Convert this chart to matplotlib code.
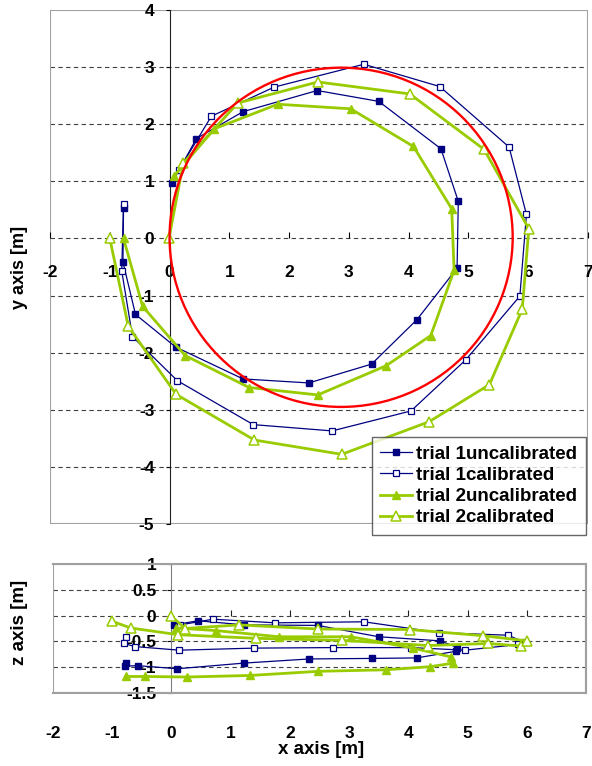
import matplotlib
matplotlib.use("Agg")
from matplotlib import pyplot as plt
from matplotlib.patches import Ellipse, Rectangle

# positions (x, y from top view, z from side view) [m]
t1u_x = [-0.77, -0.78, -0.57, 0.10, 1.23, 2.33, 3.38, 4.14, 4.81, 4.83, 4.54, 3.50, 2.47, 1.23, 0.45, 0.04]
t1u_y = [0.54, -0.41, -1.33, -1.90, -2.46, -2.53, -2.20, -1.42, -0.52, 0.65, 1.57, 2.40, 2.59, 2.22, 1.75, 0.97]
t1u_z = [-0.92, -0.98, -0.97, -1.03, -0.92, -0.84, -0.83, -0.82, -0.69, -0.62, -0.49, -0.41, -0.19, -0.18, -0.10, -0.18]

t1c_x = [-0.77, -0.80, -0.62, 0.13, 1.40, 2.72, 4.04, 4.96, 5.86, 5.97, 5.68, 4.52, 3.25, 1.75, 0.70, 0.15]
t1c_y = [0.61, -0.57, -1.72, -2.49, -3.26, -3.37, -3.02, -2.12, -1.01, 0.42, 1.60, 2.66, 3.05, 2.65, 2.14, 1.19]
t1c_z = [-0.41, -0.54, -0.60, -0.67, -0.63, -0.62, -0.62, -0.67, -0.56, -0.52, -0.38, -0.33, -0.12, -0.14, -0.07, -0.18]

t2u_x = [-0.77, -0.45, 0.26, 1.33, 2.48, 3.62, 4.37, 4.76, 4.72, 4.08, 3.03, 1.81, 0.75, 0.08]
t2u_y = [0.00, -1.19, -2.05, -2.61, -2.74, -2.23, -1.70, -0.56, 0.52, 1.61, 2.27, 2.35, 1.92, 1.10]
t2u_z = [-1.18, -1.18, -1.19, -1.16, -1.08, -1.05, -0.99, -0.92, -0.80, -0.63, -0.41, -0.41, -0.29, -0.24]

t2c_x = [-1.00, -0.69, 0.11, 1.42, 2.88, 4.34, 5.35, 5.90, 6.01, 5.26, 4.02, 2.48, 1.14, 0.23, -0.01]
t2c_y = [0.00, -1.54, -2.73, -3.53, -3.78, -3.21, -2.56, -1.24, 0.17, 1.56, 2.53, 2.74, 2.37, 1.32, 0.00]
t2c_z = [-0.11, -0.24, -0.37, -0.44, -0.48, -0.58, -0.54, -0.59, -0.49, -0.39, -0.27, -0.26, -0.18, -0.25, 0.00]

labels = ["trial 1uncalibrated", "trial 1calibrated", "trial 2uncalibrated", "trial 2calibrated"]

# reference circle
circle_center = (2.87, 0.02)
circle_rx, circle_ry = 2.87, 2.97

x_ticks = [-2, -1, 0, 1, 2, 3, 4, 5, 6, 7]
y_ticks = [-5, -4, -3, -2, -1, 0, 1, 2, 3, 4]
z_ticks = [-1.5, -1, -0.5, 0, 0.5, 1]
z_ticklabels = ["-1.5", "-1", "-0.5", "0", "0.5", "1"]

plt.rcParams["font.family"] = ["Liberation Sans", "DejaVu Sans"]
plt.rcParams["font.weight"] = "bold"
plt.rcParams["axes.unicode_minus"] = False

navy = "#000080"
green = "#99CC00"
border = "#A0A0A0"
styles = [
    dict(color=navy, lw=0.9, marker="s", ms=4.5, mfc=navy, mec=navy),
    dict(color=navy, lw=0.9, marker="s", ms=4.5, mfc="white", mec=navy, mew=0.9),
    dict(color=green, lw=2.0, marker="^", ms=6, mfc=green, mec=green),
    dict(color=green, lw=2.0, marker="^", ms=7, mfc="white", mec=green, mew=1.1),
]

fig = plt.figure(figsize=(5.92, 7.66), dpi=100)

# ---- top view: x-y ----
ax = fig.add_axes([50 / 592, 1 - 524 / 766, 538 / 592, 514 / 766])
ax.set_xlim(-2, 7)
ax.set_ylim(-5, 4)
for y in y_ticks[1:-1]:
    ax.axhline(y, color="#404040", lw=0.8, dashes=(4, 3), zorder=0)
ax.add_patch(Rectangle((0, 0), 1, 1, transform=ax.transAxes, fill=False,
                       edgecolor=border, lw=1.5, zorder=1))
for s in ["top", "right"]:
    ax.spines[s].set_visible(False)
ax.spines["left"].set_position(("data", 0))
ax.spines["left"].set_color("#202020")
ax.spines["bottom"].set_position(("data", 0))
ax.spines["bottom"].set_color("none")
ax.set_xticks(x_ticks)
ax.set_yticks(y_ticks)
ax.tick_params(axis="x", direction="in", length=4, pad=19, labelsize=12.5)
ax.tick_params(axis="y", direction="out", length=3, pad=8, labelsize=12.5)

series = [(t1u_x, t1u_y), (t1c_x, t1c_y), (t2u_x, t2u_y), (t2c_x, t2c_y)]
handles = []
for (xs, ys), st, lab in zip(series, styles, labels):
    h, = ax.plot(xs, ys, label=lab, zorder=3, **st)
    handles.append(h)
ax.add_patch(Ellipse(circle_center, 2 * circle_rx, 2 * circle_ry, fill=False,
                     edgecolor="#FF0000", lw=1.7, zorder=4))

fig.text(20 / 592, 1 - 267 / 766, "y axis [m]", rotation=90, ha="center", va="center",
         fontsize=13, fontweight="bold")

leg = fig.legend(handles=handles, labels=labels, loc="upper left",
                 bbox_to_anchor=(372 / 592, 1 - 437 / 766), fontsize=13.5,
                 frameon=True, fancybox=False, edgecolor="#404040",
                 handlelength=1.7, handletextpad=0.2, labelspacing=0.22,
                 borderpad=0.45, borderaxespad=0)
leg.get_frame().set_linewidth(1.0)

# ---- side view: x-z ----
ax2 = fig.add_axes([53 / 592, 1 - 693 / 766, 533 / 592, 129 / 766])
ax2.set_xlim(-2, 7)
ax2.set_ylim(-1.5, 1)
for z in [0.5, 0, -0.5, -1]:
    ax2.axhline(z, color="#404040", lw=0.8, dashes=(4, 3), zorder=0)
for s in ["top", "right", "bottom"]:
    ax2.spines[s].set_color(border)
    ax2.spines[s].set_linewidth(1.5)
ax2.add_patch(Rectangle((0, 0), 1, 1, transform=ax2.transAxes, fill=False,
                        edgecolor=border, lw=1.5, zorder=1))
ax2.spines["left"].set_position(("data", 0))
ax2.spines["left"].set_color("#808080")
ax2.set_xticks(x_ticks)
ax2.set_yticks(z_ticks)
ax2.set_yticklabels(z_ticklabels)
ax2.tick_params(axis="x", length=0, pad=24, labelsize=12.5)
ax2.tick_params(axis="y", direction="out", length=3, pad=8, labelsize=12.5)
ax2.plot(x_ticks[3:], [0] * len(x_ticks[3:]), ls="none", marker=2, ms=4,
         color="#202020", mew=0.8, zorder=2)

side = [(t1u_x, t1u_z), (t1c_x, t1c_z), (t2u_x, t2u_z), (t2c_x, t2c_z)]
for (xs, zs), st in zip(side, styles):
    ax2.plot(xs, zs, zorder=3, **st)

fig.text(20 / 592, 1 - 622 / 766, "z axis [m]", rotation=90, ha="center", va="center",
         fontsize=13.5, fontweight="bold")
fig.text(321 / 592, 1 - 750 / 766, "x axis [m]", ha="center", va="center",
         fontsize=13.5, fontweight="bold")

fig.savefig("out.png", dpi=100)
